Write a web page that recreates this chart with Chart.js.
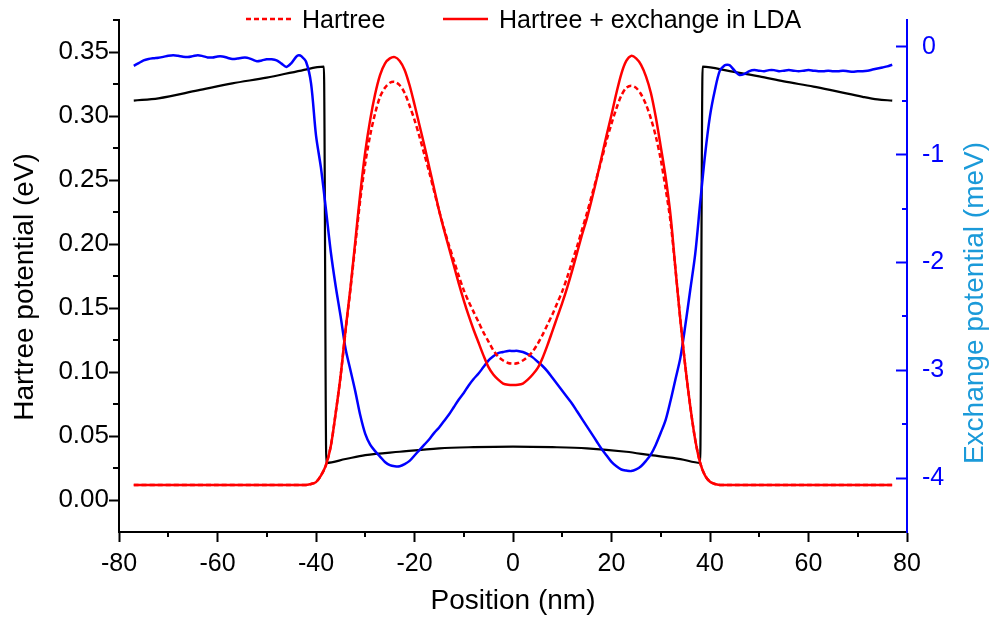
<!DOCTYPE html>
<html>
<head>
<meta charset="utf-8">
<title>Hartree and exchange potential</title>
<script src="https://cdn.jsdelivr.net/npm/chart.js@4.4.0/dist/chart.umd.min.js"></script>
<style>
  html, body { margin: 0; padding: 0; background: #fff; }
  #wrap { width: 990px; height: 619px; }
</style>
</head>
<body>
<div id="wrap"><canvas id="potential" width="990" height="619"></canvas></div>
<script>
// --- data (position in nm) ---

// band edge, eV (left axis)
const posBand = [-77, -72, -64, -57, -50, -43, -38.4, -37.9, -34, -30, -23, -15, -8, 0,
  8, 15, 23, 28, 34, 38, 38.5, 44, 50, 55, 61, 66, 71, 74, 77];
const bandEdge = [0.312, 0.3138, 0.320, 0.3255, 0.330, 0.3355, 0.3385, 0.029, 0.032, 0.035, 0.0377, 0.0404, 0.0413, 0.0417,
  0.0413, 0.0404, 0.0377, 0.035, 0.032, 0.029, 0.3385, 0.335, 0.331, 0.327, 0.323, 0.319, 0.315, 0.313, 0.312];

// Hartree potentials, eV (left axis)
const posHartree = [-77, -60, -50, -45, -44, -43,
  -42, -41, -40, -39, -38, -37, -36, -35, -34, -33, -32, -31, -30, -29, -28, -27, -26, -25, -24, -23, -22,
  -21, -20, -19, -18, -17, -16, -15, -14, -13, -12, -11, -10, -9, -8, -7, -6, -5, -4, -3, -2, -1,
  0, 1, 2, 3, 4, 5, 6, 7, 8, 9, 10, 11, 12, 13, 14, 15, 16, 17, 18, 19, 20, 21,
  22, 23, 24, 25, 26, 27, 28, 29, 30, 31, 32, 33, 34, 35, 36, 37, 38, 39, 40, 41, 42,
  43, 44, 45, 50, 60, 77];
const hartree = [0.0117, 0.0117, 0.0117, 0.0117, 0.0117, 0.0117,
  0.0118, 0.0125, 0.014, 0.019, 0.027, 0.042, 0.068, 0.097, 0.132, 0.165, 0.200, 0.235, 0.263, 0.285, 0.302, 0.315, 0.322, 0.326, 0.3266, 0.324, 0.318,
  0.308, 0.297, 0.284, 0.270, 0.256, 0.241, 0.226, 0.212, 0.199, 0.187, 0.175, 0.164, 0.155, 0.147, 0.139, 0.131, 0.124, 0.117, 0.112, 0.109, 0.107,
  0.1065, 0.107, 0.109, 0.112, 0.116, 0.122, 0.129, 0.137, 0.145, 0.154, 0.163, 0.174, 0.186, 0.198, 0.211, 0.224, 0.238, 0.252, 0.266, 0.281, 0.294, 0.306,
  0.316, 0.322, 0.3237, 0.322, 0.317, 0.309, 0.298, 0.284, 0.266, 0.243, 0.217, 0.180, 0.140, 0.104, 0.073, 0.047, 0.029, 0.019, 0.0143, 0.0125, 0.0118,
  0.0117, 0.0117, 0.0117, 0.0117, 0.0117, 0.0117];
const hartreeLda = [0.0117, 0.0117, 0.0117, 0.0117, 0.0117, 0.0117,
  0.0118, 0.0125, 0.014, 0.019, 0.027, 0.042, 0.068, 0.097, 0.133, 0.166, 0.203, 0.240, 0.272, 0.297, 0.317, 0.332, 0.341, 0.345, 0.346, 0.343, 0.336,
  0.324, 0.309, 0.293, 0.277, 0.260, 0.243, 0.226, 0.211, 0.197, 0.183, 0.169, 0.156, 0.144, 0.133, 0.123, 0.113, 0.104, 0.098, 0.094, 0.091, 0.090,
  0.0898, 0.090, 0.091, 0.094, 0.098, 0.103, 0.111, 0.121, 0.132, 0.143, 0.154, 0.166, 0.179, 0.193, 0.207, 0.220, 0.235, 0.251, 0.268, 0.285, 0.301, 0.318,
  0.333, 0.343, 0.347, 0.345, 0.340, 0.331, 0.318, 0.299, 0.276, 0.252, 0.222, 0.180, 0.140, 0.104, 0.073, 0.047, 0.029, 0.019, 0.0143, 0.0125, 0.0118,
  0.0117, 0.0117, 0.0117, 0.0117, 0.0117, 0.0117];

// exchange potential, meV (right axis)
const posExchange = [-77, -76, -75, -74, -73, -72, -71, -70, -69, -68, -67, -66, -65, -64, -63, -62, -61, -60,
  -59, -58, -57, -56, -55, -54, -53, -52, -51, -50, -49, -48, -47, -46, -45, -44, -43.5, -43,
  -42, -41, -40, -39, -38, -37, -36, -35, -34, -33, -32, -31, -30, -29, -28, -27, -26, -25,
  -24, -23, -22, -21, -20, -19, -18, -17, -16, -15, -14, -13, -12, -11, -10, -9, -8, -7,
  -6, -5, -4, -3, -2, -1, 0, 1, 2, 3, 4, 5, 6, 7, 8, 9, 10, 11,
  12, 13, 14, 15, 16, 17, 18, 19, 20, 21, 22, 23, 24, 25, 26, 27, 28, 29,
  30, 31, 32, 33, 34, 35, 36, 37, 38, 39, 40, 41, 42, 43, 43.5, 44, 45, 46,
  47, 48, 49, 50, 51, 52, 53, 54, 55, 56, 57, 58, 59, 60, 61, 62, 63, 64,
  65, 66, 67, 68, 69, 70, 71, 72, 73, 74, 75, 76, 77];
const exchange = [-0.175, -0.15, -0.125, -0.112, -0.105, -0.10, -0.092, -0.082, -0.077, -0.082, -0.09, -0.093, -0.085, -0.077, -0.085, -0.097, -0.098, -0.088,
  -0.088, -0.10, -0.112, -0.108, -0.10, -0.10, -0.115, -0.132, -0.125, -0.114, -0.115, -0.125, -0.155, -0.185, -0.15, -0.09, -0.077, -0.085,
  -0.14, -0.34, -0.82, -1.12, -1.50, -1.90, -2.22, -2.50, -2.80, -3.00, -3.20, -3.42, -3.59, -3.69, -3.75, -3.80, -3.85, -3.88,
  -3.89, -3.89, -3.87, -3.84, -3.79, -3.74, -3.69, -3.64, -3.58, -3.53, -3.47, -3.41, -3.34, -3.27, -3.21, -3.14, -3.08, -3.03,
  -2.97, -2.91, -2.87, -2.84, -2.83, -2.82, -2.82, -2.82, -2.83, -2.85, -2.88, -2.92, -2.96, -3.01, -3.07, -3.13, -3.19, -3.25,
  -3.31, -3.38, -3.45, -3.52, -3.59, -3.66, -3.73, -3.79, -3.85, -3.89, -3.92, -3.93, -3.935, -3.92, -3.89, -3.84, -3.78, -3.69,
  -3.58, -3.46, -3.28, -3.08, -2.88, -2.58, -2.25, -1.92, -1.45, -1.00, -0.64, -0.40, -0.22, -0.17, -0.165, -0.17, -0.22, -0.26,
  -0.25, -0.225, -0.215, -0.22, -0.225, -0.215, -0.215, -0.225, -0.22, -0.215, -0.22, -0.225, -0.22, -0.215, -0.22, -0.225, -0.225, -0.22,
  -0.225, -0.225, -0.22, -0.225, -0.23, -0.225, -0.225, -0.22, -0.21, -0.20, -0.19, -0.18, -0.165];

// --- axes ---
const xTicks = [-80, -60, -40, -20, 0, 20, 40, 60, 80];
const xMinor = [-70, -50, -30, -10, 10, 30, 50, 70];
const leftTicks = [0, 0.05, 0.10, 0.15, 0.20, 0.25, 0.30, 0.35];
const leftMinor = [0.025, 0.075, 0.125, 0.175, 0.225, 0.275, 0.325, 0.375];
const rightTicks = [-4, -3, -2, -1, 0];
const rightMinor = [-3.5, -2.5, -1.5, -0.5];

const BLUE = '#0000ff';
const RED = '#ff0000';
const TITLE_BLUE = '#1b9ad9';
const FONT = '"Liberation Sans", Arial, sans-serif';

Chart.defaults.font.family = FONT;
Chart.defaults.color = '#000';

function pairs(xs, ys) {
    return xs.map((x, i) => ({ x: x, y: ys[i] }));
}

function fixedTicks(values) {
    return function(axis) {
        axis.ticks = values.map(v => ({ value: v }));
    };
}

// fixed axis box sizes; label overhang must not push the plot area around
function fixedWidth(w) {
    return function(axis) {
        axis.width = w;
        axis.paddingTop = 0;
        axis.paddingBottom = 0;
    };
}

function fixedHeight(h) {
    return function(axis) {
        axis.height = h;
        axis.paddingLeft = 0;
        axis.paddingRight = 0;
    };
}

// minor ticks, y axis titles and the line legend along the top
const decorations = {
    id: 'decorations',
    afterDraw(chart) {
        const ctx = chart.ctx;
        const { x, y, y1 } = chart.scales;
        ctx.save();
        ctx.lineWidth = 2;

        ctx.strokeStyle = '#000';
        ctx.beginPath();
        leftMinor.forEach(v => {
            const py = Math.round(y.getPixelForValue(v));
            ctx.moveTo(y.right - 6, py);
            ctx.lineTo(y.right, py);
        });
        xMinor.forEach(v => {
            const px = Math.round(x.getPixelForValue(v));
            ctx.moveTo(px, x.top);
            ctx.lineTo(px, x.top + 5);
        });
        ctx.stroke();

        ctx.strokeStyle = BLUE;
        ctx.beginPath();
        rightMinor.forEach(v => {
            const py = Math.round(y1.getPixelForValue(v));
            ctx.moveTo(y1.left - 5, py);
            ctx.lineTo(y1.left, py);
        });
        ctx.stroke();

        // rotated axis titles, both reading upwards
        ctx.font = '28px ' + FONT;
        ctx.textAlign = 'center';
        ctx.textBaseline = 'alphabetic';
        ctx.save();
        ctx.translate(33, 287);
        ctx.rotate(-Math.PI / 2);
        ctx.fillStyle = '#000';
        ctx.fillText('Hartree potential (eV)', 0, 0);
        ctx.restore();
        ctx.save();
        ctx.translate(983, 303);
        ctx.rotate(-Math.PI / 2);
        ctx.fillStyle = TITLE_BLUE;
        ctx.fillText('Exchange potential (meV)', 0, 0);
        ctx.restore();

        // legend entries
        const entries = [[246, 1], [443, 0]];
        ctx.font = '25px ' + FONT;
        ctx.textAlign = 'left';
        entries.forEach(([left, idx]) => {
            const ds = chart.data.datasets[idx];
            ctx.strokeStyle = ds.borderColor;
            ctx.lineWidth = 2.5;
            ctx.setLineDash(ds.borderDash || []);
            ctx.beginPath();
            ctx.moveTo(left, 19);
            ctx.lineTo(left + 45, 19);
            ctx.stroke();
            ctx.setLineDash([]);
            ctx.fillStyle = '#000';
            ctx.fillText(ds.label, left + 56, 28);
        });
        ctx.restore();
    }
};

const ctx = document.getElementById('potential');

new Chart(ctx, {
    type: 'line',
    data: {
        datasets: [
            {
                label: 'Hartree + exchange in LDA',
                data: pairs(posHartree, hartreeLda),
                yAxisID: 'y',
                borderColor: RED,
                borderWidth: 2.5,
                tension: 0.3
            },
            {
                label: 'Hartree',
                data: pairs(posHartree, hartree),
                yAxisID: 'y',
                borderColor: RED,
                borderWidth: 2.5,
                borderDash: [5, 3],
                tension: 0.3
            },
            {
                label: '',
                data: pairs(posExchange, exchange),
                yAxisID: 'y1',
                borderColor: BLUE,
                borderWidth: 2.5,
                tension: 0.3
            },
            {
                label: '',
                data: pairs(posBand, bandEdge),
                yAxisID: 'y',
                borderColor: '#000',
                borderWidth: 2.2,
                cubicInterpolationMode: 'monotone'
            }
        ]
    },
    options: {
        responsive: false,
        animation: false,
        devicePixelRatio: 1,
        elements: {
            point: { radius: 0 },
            line: { fill: false }
        },
        layout: { padding: { top: 20, left: 0, right: 0, bottom: 0 } },
        plugins: {
            legend: { display: false },
            tooltip: { enabled: false }
        },
        scales: {
            x: {
                type: 'linear',
                min: -80,
                max: 80,
                afterBuildTicks: fixedTicks(xTicks),
                afterFit: fixedHeight(87),
                border: { display: true, color: '#000', width: 2 },
                grid: { drawOnChartArea: false, tickLength: 10, tickWidth: 2, tickColor: '#000' },
                ticks: { font: { size: 25 }, padding: 7, maxRotation: 0 },
                title: { display: true, text: 'Position (nm)', font: { size: 28 }, padding: { top: 0, bottom: 1 } }
            },
            y: {
                position: 'left',
                min: -0.025,
                max: 0.375,
                afterBuildTicks: fixedTicks(leftTicks),
                afterFit: fixedWidth(119),
                border: { display: true, color: '#000', width: 2 },
                grid: { drawOnChartArea: false, tickLength: 10, tickWidth: 2, tickColor: '#000' },
                ticks: {
                    font: { size: 26 },
                    padding: 0,
                    callback: function(value) { return value.toFixed(2); }
                }
            },
            y1: {
                position: 'right',
                min: -4.5,
                max: 0.25,
                afterBuildTicks: fixedTicks(rightTicks),
                afterFit: fixedWidth(83),
                border: { display: true, color: BLUE, width: 2 },
                grid: { drawOnChartArea: false, tickLength: -11, tickWidth: 2, tickColor: BLUE },
                ticks: { font: { size: 25 }, color: BLUE, padding: 26 }
            }
        }
    },
    plugins: [decorations]
});
</script>
</body>
</html>
